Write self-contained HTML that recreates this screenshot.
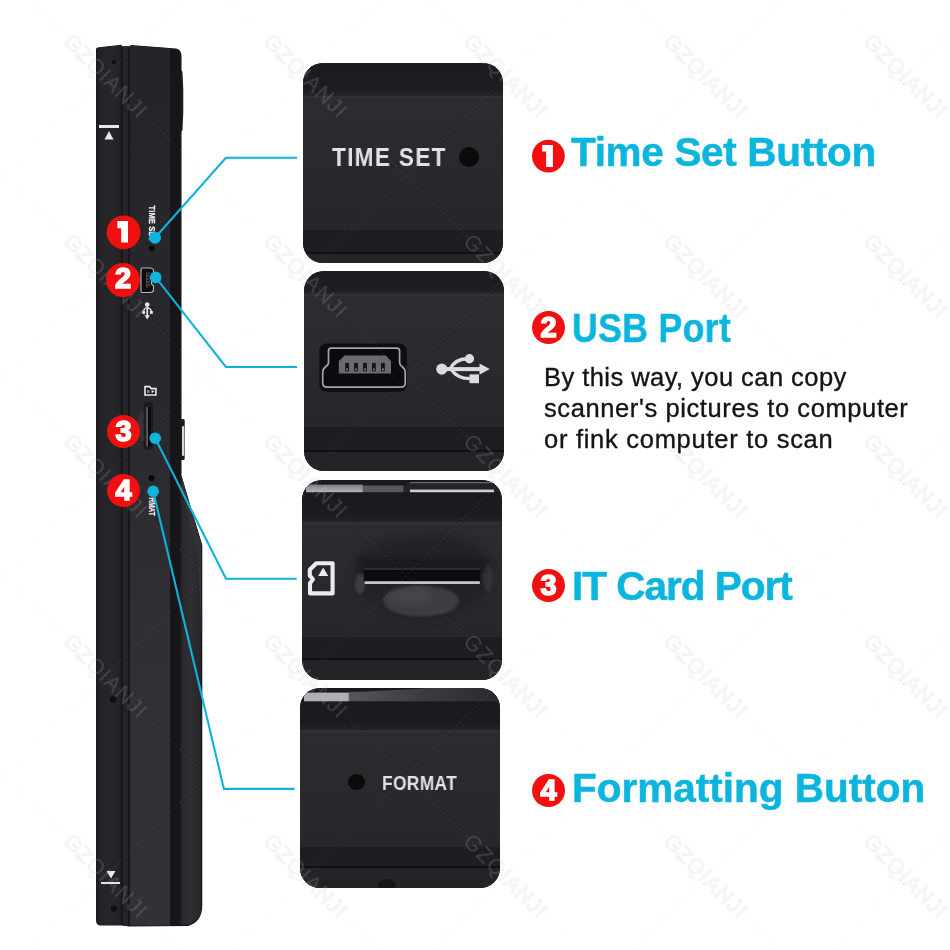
<!DOCTYPE html>
<html><head><meta charset="utf-8">
<style>
html,body{margin:0;padding:0;background:#fff;}
#c{position:relative;width:950px;height:950px;overflow:hidden;background:#fff;font-family:"Liberation Sans",sans-serif;}
.abs{position:absolute;}
.title{position:absolute;font-weight:bold;font-size:40.5px;color:#0cb5de;white-space:nowrap;line-height:1;will-change:transform;-webkit-text-stroke:0.5px #0cb5de;}
.rc{position:absolute;width:33px;height:33px;border-radius:50%;background:#f1100f;color:#fff;font-weight:bold;font-size:29px;line-height:33px;text-align:center;-webkit-text-stroke:1.6px #fff;will-change:transform;}
.body{position:absolute;left:543.5px;font-size:25.5px;color:#141414;white-space:nowrap;line-height:1;-webkit-text-stroke:0.35px #141414;will-change:transform;}
.panel{position:absolute;width:200px;height:200px;border-radius:20px;overflow:hidden;background:linear-gradient(#2c2c30 20%,#27272b 80%);}
.band{position:absolute;left:0;width:200px;}
.ptxt{position:absolute;font-weight:bold;color:#e2e2e4;white-space:nowrap;line-height:1;will-change:transform;}
</style></head><body><div id="c">

<!-- scanner body -->
<svg class="abs" style="left:0;top:0" width="950" height="950" viewBox="0 0 950 950">
  <defs>
    <linearGradient id="ext" x1="0" x2="1" y1="0" y2="0">
      <stop offset="0" stop-color="#1e1e21"/><stop offset="0.15" stop-color="#2a2a2e"/><stop offset="0.5" stop-color="#2e2e32"/><stop offset="0.9" stop-color="#28282c"/><stop offset="1" stop-color="#1e1e21"/>
    </linearGradient>
    <linearGradient id="lp" x1="0" x2="1" y1="0" y2="0">
      <stop offset="0" stop-color="#1c1c20"/><stop offset="0.15" stop-color="#242428"/><stop offset="0.6" stop-color="#27272b"/><stop offset="1" stop-color="#222226"/>
    </linearGradient>
    <linearGradient id="mp" x1="0" x2="0" y1="0" y2="1">
      <stop offset="0" stop-color="#252529"/><stop offset="0.4" stop-color="#29292d"/><stop offset="0.65" stop-color="#2f2f34"/><stop offset="1" stop-color="#313136"/>
    </linearGradient>
  </defs>
  <!-- silhouette -->
  <path d="M96 49 Q96 47.5 99 47.3 L121.6 44.7 L122 46.3 L130 46.3 L130.5 45 L176 48.5 Q181.5 49.5 181.5 56 L181.5 476 L188 498 L202.3 545 L202.3 905 Q202.3 922 188 926 L129 926.5 L122 925.5 L100 925.5 Q96 925 96 920 Z" fill="#161619"/>
  <!-- lower extension face -->
  <path d="M180 476 L181.5 476 L188 498 L201.8 545 L201.8 905 Q201.8 920 188 924.5 L180 925 Z" fill="url(#ext)"/>
  <path d="M182 477 L188 498 L201.5 545 L201.5 640 L198 560 L185.5 504 L181 486 Z" fill="#3a3a3e" opacity="0.5"/>
  <!-- left panel -->
  <path d="M96.5 50 Q96.5 48 99 47.8 L121 45.2 L121 925 L100 925 Q96.5 924.5 96.5 920 Z" fill="url(#lp)"/>
  <!-- divider strips -->
  <rect x="122.8" y="46.5" width="5.4" height="879" fill="#252528"/>
  <!-- main -->
  <path d="M130 46.5 L131 45.5 L170 48.3 L170 925.5 L130 925.5 Z" fill="url(#mp)"/>
</svg>

<!-- body markings -->
<div class="abs" style="left:99px;top:125.3px;width:19.5px;height:2.6px;background:#e8e8e8"></div>
<svg class="abs" style="left:104px;top:131px" width="10" height="9"><path d="M5 0 L9.5 8.5 L0.5 8.5 Z" fill="#e8e8e8"/></svg>
<div class="abs" style="left:100.8px;top:881.6px;width:19.5px;height:2.6px;background:#e8e8e8"></div>
<svg class="abs" style="left:105.5px;top:870.5px" width="10" height="8"><path d="M0.5 0 L9.5 0 L5 7.5 Z" fill="#e8e8e8"/></svg>

<svg class="abs" style="left:0;top:0;will-change:transform" width="950" height="950" viewBox="0 0 950 950">
  <!-- screws -->
  <circle cx="113.8" cy="62.2" r="2" fill="#0e0e10"/>
  <circle cx="113" cy="699.4" r="3.2" fill="#0e0e10"/>
  <circle cx="114" cy="908.6" r="3.2" fill="#0e0e10"/>
  <!-- side buttons -->
  <path d="M181 70 L182.5 72 L183.3 90 L183.3 112 L182.5 130 L181 132 Z" fill="#1e1e21"/>
  <rect x="180.5" y="419" width="4.2" height="41" rx="1.5" fill="#1a1a1c"/>
  <rect x="182" y="426" width="2.2" height="30" rx="1" fill="#d8d8da"/>
  <!-- holes -->
  <circle cx="151.8" cy="248.4" r="3" fill="#0a0a0b"/>
  <circle cx="151.5" cy="478" r="3" fill="#0a0a0b"/>
  <!-- body usb port -->
  <path d="M142 268 L150 268 Q153.5 268 153.5 271 L153.5 274 L151.5 276 L151.5 284 L153.5 286 L153.5 289.5 Q153.5 292.5 150 292.5 L142 292.5 Q141 292.5 141 291 L141 269.5 Q141 268 142 268 Z" fill="#0c0c0e" stroke="#b8b8bc" stroke-width="1.1"/>
  <rect x="146" y="272.5" width="3.6" height="15" fill="#505054"/>
  <!-- body usb symbol (arrow down) -->
  <g fill="#e6e6e8">
    <circle cx="147.2" cy="304.6" r="2.3"/>
    <rect x="146.4" y="305" width="1.7" height="11"/>
    <path d="M144.6 315.3 L149.8 315.3 L147.2 319.6 Z"/>
    <circle cx="143.6" cy="312.4" r="1.6"/>
    <rect x="149.9" y="311" width="2.9" height="2.9"/>
  </g>
  <g fill="none" stroke="#e6e6e8" stroke-width="1.3">
    <path d="M147.2 307.5 Q143.8 308.5 143.6 311.5"/>
    <path d="M147.2 307.8 Q151.3 308.5 151.3 311.5"/>
  </g>
  <g fill="#151517"><rect x="146.8" y="273.5" width="2.2" height="1.6"/><rect x="146.8" y="276.6" width="2.2" height="1.6"/><rect x="146.8" y="279.7" width="2.2" height="1.6"/><rect x="146.8" y="282.8" width="2.2" height="1.6"/><rect x="146.8" y="285.9" width="2.2" height="1.6"/></g>
  <!-- body sd icon -->
  <path d="M145 386.6 L149.6 386.6 L151.2 388.6 L155.9 388.6 L155.9 395 L145 395 Z" fill="#1a1a1c" stroke="#ececee" stroke-width="1.6" stroke-linejoin="miter"/>
  <path d="M151.6 389.9 L154.6 391.6 L151.6 393.3 Z" fill="#ececee"/>
  <path d="M147 390 L149.5 390 L149.5 393 L147 393 Z" fill="#ececee" opacity="0.5"/>
  <!-- body slot -->
  <ellipse cx="142.5" cy="426" rx="5.5" ry="14" fill="#3a3a3e" opacity="0.75"/>
  <rect x="143.8" y="402" width="9.2" height="48" rx="4" fill="#1c1c1f"/>
  <rect x="147.4" y="407" width="3.4" height="39.5" fill="#08080a"/>
  <rect x="146.6" y="407" width="1" height="39.5" fill="#b0b0b4" opacity="0.8"/>
  <!-- rotated text -->
  <text transform="translate(148.6,205.5) rotate(90) scale(0.78,1)" font-family="Liberation Sans" font-weight="bold" font-size="9.6" fill="#f0f0f2" stroke="#f0f0f2" stroke-width="0.3" letter-spacing="0.2">TIME SET</text>
  <text transform="translate(149,497.5) rotate(90) scale(0.75,1)" font-family="Liberation Sans" font-weight="bold" font-size="8.6" fill="#f0f0f2" stroke="#f0f0f2" stroke-width="0.25">RMAT</text>
</svg>

<!-- panels -->
<div class="panel" style="left:303px;top:63px;">
  <div class="band" style="top:0;height:33px;background:linear-gradient(#1c1c20,#1d1d21 80%,#262629)"></div>
  <div class="band" style="top:33px;height:2px;background:#313135"></div>
  <div class="band" style="top:167px;height:22px;background:#1e1e22"></div>
  <div class="band" style="top:189px;height:2px;background:#111113"></div>
  <div class="band" style="top:191px;height:9px;background:#242428"></div>
  <div class="ptxt" style="left:28.5px;top:81px;font-size:26px;letter-spacing:1.5px;transform:scaleX(0.87);transform-origin:0 0">TIME SET</div>
  <div class="abs" style="left:155.5px;top:84px;width:20px;height:20px;border-radius:50%;background:#0b0b0c"></div>
</div>

<div class="panel" style="left:304px;top:271px;">
  <div class="band" style="top:0;height:23px;background:linear-gradient(#1c1c20,#1e1e22 85%,#29292d)"></div>
  <div class="band" style="top:23px;height:2px;background:#313135"></div>
  <div class="band" style="top:156px;height:24px;background:#1e1e22"></div>
  <div class="band" style="top:179px;height:2px;background:#111113"></div>
  <div class="band" style="top:181px;height:19px;background:#242428"></div>
  <svg class="abs" style="left:0;top:0" width="200" height="200" viewBox="0 0 200 200">
    <rect x="15.4" y="72.4" width="87.3" height="48.4" rx="7" fill="#0e0e10"/>
    <path d="M27 77.2 L93 77.2 Q95.6 77.2 95.6 80 L95.6 91.5 Q95.6 94 98 95.5 Q101.2 98 101.2 101.5 L101.2 112 Q101.2 116.1 97 116.1 L23 116.1 Q18.7 116.1 18.7 112 L18.7 101.5 Q18.7 98 21.8 95.5 Q24.5 94 24.5 91.5 L24.5 80 Q24.5 77.2 27 77.2 Z" fill="#0b0b0d" stroke="#a4a4a8" stroke-width="1.7"/>
    <path d="M40.6 84.5 L81.6 84.5 L87 90 L87 102.4 L34.8 102.4 L34.8 90 Z" fill="#6a6a6e"/>
    <g fill="#141416">
      <rect x="41.2" y="91.9" width="3.8" height="8.4"/>
      <rect x="50.1" y="91.9" width="3.8" height="8.4"/>
      <rect x="59.1" y="91.9" width="3.8" height="8.4"/>
      <rect x="68" y="91.9" width="3.8" height="8.4"/>
      <rect x="77" y="91.9" width="3.8" height="8.4"/>
    </g>
    <g fill="#8a8a8e">
      <rect x="42.2" y="97.5" width="1.8" height="1.8"/>
      <rect x="51.1" y="97.5" width="1.8" height="1.8"/>
      <rect x="60.1" y="97.5" width="1.8" height="1.8"/>
      <rect x="69" y="97.5" width="1.8" height="1.8"/>
      <rect x="78" y="97.5" width="1.8" height="1.8"/>
    </g>
    <!-- usb symbol -->
    <g fill="#dcdcde" stroke="none">
      <circle cx="137.8" cy="98.1" r="5.6"/>
      <rect x="137" y="96.1" width="39" height="4"/>
      <path d="M175.5 92.4 L185.8 98.1 L175.5 103.8 Z"/>
      <circle cx="165.4" cy="87.8" r="4.7"/>
      <rect x="165.5" y="103.4" width="9.5" height="8.8"/>
    </g>
    <g fill="none" stroke="#dcdcde" stroke-width="3.4">
      <path d="M146 98.1 Q151 88 163 87.8"/>
      <path d="M147 98.1 Q153 107.6 166 107.6"/>
    </g>
  </svg>
</div>

<div class="panel" style="left:302px;top:480px;">
  <div class="band" style="top:0;height:42px;background:linear-gradient(#1a1a1e,#1c1c20 85%,#242428)"></div>
  <div class="band" style="top:42px;height:2px;background:#303034"></div>
  <div class="band" style="top:157px;height:21px;background:#1e1e22"></div>
  <div class="band" style="top:178px;height:2px;background:#111113"></div>
  <div class="band" style="top:180px;height:20px;background:#242428"></div>
  <svg class="abs" style="left:0;top:0" width="200" height="200" viewBox="0 0 200 200">
    <defs>
      <linearGradient id="hl3" x1="0" x2="0" y1="0" y2="1"><stop offset="0" stop-color="#7c7c80"/><stop offset="1" stop-color="#b4b4b8"/></linearGradient>
      <radialGradient id="rec3" cx="0.5" cy="0.5" r="0.5"><stop offset="0" stop-color="#1c1c20"/><stop offset="0.7" stop-color="#222226"/><stop offset="1" stop-color="#2a2a2e" stop-opacity="0"/></radialGradient>
      <radialGradient id="lip3" cx="0.5" cy="0.3" r="0.65"><stop offset="0" stop-color="#48484c"/><stop offset="0.75" stop-color="#38383c"/><stop offset="1" stop-color="#2c2c30" stop-opacity="0"/></radialGradient>
    </defs>
    <rect x="4" y="4.6" width="57" height="7.6" fill="url(#hl3)"/>
    <rect x="60.6" y="5.5" width="41" height="6.7" fill="#5a5a5e"/>
    <path d="M101.6 12.2 L104 4 Q106 2 112 2 L200 2 L200 12.2 Z" fill="#242428"/>
    <rect x="108" y="9.6" width="84" height="2.6" fill="#cfcfd2"/>
    <rect x="108" y="2" width="84" height="1.2" fill="#6a6a6e"/>
    <filter id="bl3" x="-30%" y="-30%" width="160%" height="160%"><feGaussianBlur stdDeviation="3"/></filter>
    <filter id="bl1" x="-30%" y="-30%" width="160%" height="160%"><feGaussianBlur stdDeviation="1.2"/></filter>
    <path d="M52 100 Q50 70 80 62 Q105 56 120 58 Q140 48 160 60 Q190 66 192 95 Q192 118 170 122 Q150 142 118 142 Q88 142 70 122 Q54 114 52 100 Z" fill="#222226" filter="url(#bl3)"/>
    <ellipse cx="58" cy="104" rx="5" ry="10" fill="#48484c" opacity="0.7" filter="url(#bl1)"/>
    <ellipse cx="186" cy="98" rx="5" ry="14" fill="#3a3a3e" opacity="0.7" filter="url(#bl1)"/>
    <ellipse cx="119" cy="121" rx="38" ry="15.5" fill="#3c3c40" filter="url(#bl1)"/>
    <ellipse cx="108" cy="116" rx="22" ry="8" fill="#4c4c50" opacity="0.6" filter="url(#bl3)"/>
    <rect x="58" y="80" width="125" height="10" fill="#141416" opacity="0.8" filter="url(#bl3)"/>
    <rect x="62" y="88" width="116.5" height="14" fill="#0c0c0e"/>
    <rect x="62" y="88" width="116.5" height="2" fill="#2a2a2e"/>
    <rect x="62.5" y="101.2" width="115.5" height="2.8" rx="1" fill="#c4c4c8"/>
    <path d="M14.3 83.3 L30.6 83.3 L30.6 113.4 L8 113.4 L8 103.3 L10.9 99.3 L7.8 95.6 L7.8 89.8 Z" fill="none" stroke="#ececee" stroke-width="4.1" stroke-linejoin="round"/>
    <path d="M21.2 87.6 L26.2 95.9 L16.2 95.9 Z" fill="#ececee"/>
  </svg>
</div>

<div class="panel" style="left:300px;top:688px;">
  <div class="band" style="top:0;height:42px;background:linear-gradient(#1a1a1e,#1c1c20 85%,#242428)"></div>
  <div class="band" style="top:42px;height:2px;background:#303034"></div>
  <div class="band" style="top:159px;height:19px;background:#1e1e22"></div>
  <div class="band" style="top:178px;height:2px;background:#111113"></div>
  <div class="band" style="top:180px;height:20px;background:#242428"></div>
  <svg class="abs" style="left:0;top:0" width="200" height="200" viewBox="0 0 200 200">
    <defs>
      <linearGradient id="hl4" x1="0" x2="1" y1="0" y2="0"><stop offset="0" stop-color="#55555a"/><stop offset="0.5" stop-color="#3c3c40"/><stop offset="1" stop-color="#2a2a2e"/></linearGradient>
    </defs>
    <rect x="4" y="4.6" width="45" height="8.7" fill="#b0b0b4"/>
    <path d="M48.7 13.3 L48.7 4 Q80 3 130 0 L200 0 L200 13.3 Z" fill="url(#hl4)"/>
    <ellipse cx="86.8" cy="197" rx="9" ry="6" fill="#161618"/>
  </svg>
  <div class="ptxt" style="left:81.5px;top:85.5px;font-size:19.3px;letter-spacing:0.4px;transform:scaleX(0.9);transform-origin:0 0">FORMAT</div>
  <div class="abs" style="left:48px;top:85.5px;width:17px;height:16px;border-radius:50%;background:#0b0b0c"></div>
</div>

<!-- watermark -->
<svg class="abs" style="left:0;top:0;mix-blend-mode:screen" width="950" height="950" viewBox="0 0 950 950">
  <g stroke="#222222" stroke-width="1" stroke-dasharray="1.5 3">
    <line x1="-50" y1="-1280" x2="1000" y2="-230"/>
    <line x1="-50" y1="-1080" x2="1000" y2="-30"/>
    <line x1="-50" y1="-880" x2="1000" y2="170"/>
    <line x1="-50" y1="-680" x2="1000" y2="370"/>
    <line x1="-50" y1="-480" x2="1000" y2="570"/>
    <line x1="-50" y1="-280" x2="1000" y2="770"/>
    <line x1="-50" y1="-80" x2="1000" y2="970"/>
    <line x1="-50" y1="120" x2="1000" y2="1170"/>
    <line x1="-50" y1="320" x2="1000" y2="1370"/>
    <line x1="-50" y1="520" x2="1000" y2="1570"/>
    <line x1="-50" y1="720" x2="1000" y2="1770"/>
    <line x1="-50" y1="920" x2="1000" y2="1970"/>
    <line x1="-50" y1="32" x2="1000" y2="-1018"/>
    <line x1="-50" y1="232" x2="1000" y2="-818"/>
    <line x1="-50" y1="432" x2="1000" y2="-618"/>
    <line x1="-50" y1="632" x2="1000" y2="-418"/>
    <line x1="-50" y1="832" x2="1000" y2="-218"/>
    <line x1="-50" y1="1032" x2="1000" y2="-18"/>
    <line x1="-50" y1="1232" x2="1000" y2="182"/>
    <line x1="-50" y1="1432" x2="1000" y2="382"/>
    <line x1="-50" y1="1632" x2="1000" y2="582"/>
    <line x1="-50" y1="1832" x2="1000" y2="782"/>
    <line x1="-50" y1="2032" x2="1000" y2="982"/>
    <line x1="-50" y1="2232" x2="1000" y2="1182"/>
    <line x1="-50" y1="2432" x2="1000" y2="1382"/>
  </g>
  <g font-family="Liberation Sans" font-size="21.5" fill="#242424" stroke="#242424" stroke-width="0.4" text-anchor="middle" letter-spacing="1.2">
    <text transform="translate(106,76) rotate(45)" x="0" y="7.5">GZQIANJI</text>
    <text transform="translate(306,76) rotate(45)" x="0" y="7.5">GZQIANJI</text>
    <text transform="translate(506,76) rotate(45)" x="0" y="7.5">GZQIANJI</text>
    <text transform="translate(706,76) rotate(45)" x="0" y="7.5">GZQIANJI</text>
    <text transform="translate(906,76) rotate(45)" x="0" y="7.5">GZQIANJI</text>
    <text transform="translate(106,276) rotate(45)" x="0" y="7.5">GZQIANJI</text>
    <text transform="translate(306,276) rotate(45)" x="0" y="7.5">GZQIANJI</text>
    <text transform="translate(506,276) rotate(45)" x="0" y="7.5">GZQIANJI</text>
    <text transform="translate(706,276) rotate(45)" x="0" y="7.5">GZQIANJI</text>
    <text transform="translate(906,276) rotate(45)" x="0" y="7.5">GZQIANJI</text>
    <text transform="translate(106,476) rotate(45)" x="0" y="7.5">GZQIANJI</text>
    <text transform="translate(306,476) rotate(45)" x="0" y="7.5">GZQIANJI</text>
    <text transform="translate(506,476) rotate(45)" x="0" y="7.5">GZQIANJI</text>
    <text transform="translate(706,476) rotate(45)" x="0" y="7.5">GZQIANJI</text>
    <text transform="translate(906,476) rotate(45)" x="0" y="7.5">GZQIANJI</text>
    <text transform="translate(106,676) rotate(45)" x="0" y="7.5">GZQIANJI</text>
    <text transform="translate(306,676) rotate(45)" x="0" y="7.5">GZQIANJI</text>
    <text transform="translate(506,676) rotate(45)" x="0" y="7.5">GZQIANJI</text>
    <text transform="translate(706,676) rotate(45)" x="0" y="7.5">GZQIANJI</text>
    <text transform="translate(906,676) rotate(45)" x="0" y="7.5">GZQIANJI</text>
    <text transform="translate(106,876) rotate(45)" x="0" y="7.5">GZQIANJI</text>
    <text transform="translate(306,876) rotate(45)" x="0" y="7.5">GZQIANJI</text>
    <text transform="translate(506,876) rotate(45)" x="0" y="7.5">GZQIANJI</text>
    <text transform="translate(706,876) rotate(45)" x="0" y="7.5">GZQIANJI</text>
    <text transform="translate(906,876) rotate(45)" x="0" y="7.5">GZQIANJI</text>
  </g>
</svg>
<svg class="abs" style="left:0;top:0;mix-blend-mode:multiply" width="950" height="950" viewBox="0 0 950 950">
  <g stroke="#f5f5f5" stroke-width="1" stroke-dasharray="1.5 3">
    <line x1="-50" y1="-1280" x2="1000" y2="-230"/>
    <line x1="-50" y1="-1080" x2="1000" y2="-30"/>
    <line x1="-50" y1="-880" x2="1000" y2="170"/>
    <line x1="-50" y1="-680" x2="1000" y2="370"/>
    <line x1="-50" y1="-480" x2="1000" y2="570"/>
    <line x1="-50" y1="-280" x2="1000" y2="770"/>
    <line x1="-50" y1="-80" x2="1000" y2="970"/>
    <line x1="-50" y1="120" x2="1000" y2="1170"/>
    <line x1="-50" y1="320" x2="1000" y2="1370"/>
    <line x1="-50" y1="520" x2="1000" y2="1570"/>
    <line x1="-50" y1="720" x2="1000" y2="1770"/>
    <line x1="-50" y1="920" x2="1000" y2="1970"/>
    <line x1="-50" y1="32" x2="1000" y2="-1018"/>
    <line x1="-50" y1="232" x2="1000" y2="-818"/>
    <line x1="-50" y1="432" x2="1000" y2="-618"/>
    <line x1="-50" y1="632" x2="1000" y2="-418"/>
    <line x1="-50" y1="832" x2="1000" y2="-218"/>
    <line x1="-50" y1="1032" x2="1000" y2="-18"/>
    <line x1="-50" y1="1232" x2="1000" y2="182"/>
    <line x1="-50" y1="1432" x2="1000" y2="382"/>
    <line x1="-50" y1="1632" x2="1000" y2="582"/>
    <line x1="-50" y1="1832" x2="1000" y2="782"/>
    <line x1="-50" y1="2032" x2="1000" y2="982"/>
    <line x1="-50" y1="2232" x2="1000" y2="1182"/>
    <line x1="-50" y1="2432" x2="1000" y2="1382"/>
  </g>
  <g font-family="Liberation Sans" font-size="21.5" fill="none" stroke="#ececec" stroke-width="0.75" text-anchor="middle" letter-spacing="1.2">
    <text transform="translate(106,76) rotate(45)" x="0" y="7.5">GZQIANJI</text>
    <text transform="translate(306,76) rotate(45)" x="0" y="7.5">GZQIANJI</text>
    <text transform="translate(506,76) rotate(45)" x="0" y="7.5">GZQIANJI</text>
    <text transform="translate(706,76) rotate(45)" x="0" y="7.5">GZQIANJI</text>
    <text transform="translate(906,76) rotate(45)" x="0" y="7.5">GZQIANJI</text>
    <text transform="translate(106,276) rotate(45)" x="0" y="7.5">GZQIANJI</text>
    <text transform="translate(306,276) rotate(45)" x="0" y="7.5">GZQIANJI</text>
    <text transform="translate(506,276) rotate(45)" x="0" y="7.5">GZQIANJI</text>
    <text transform="translate(706,276) rotate(45)" x="0" y="7.5">GZQIANJI</text>
    <text transform="translate(906,276) rotate(45)" x="0" y="7.5">GZQIANJI</text>
    <text transform="translate(106,476) rotate(45)" x="0" y="7.5">GZQIANJI</text>
    <text transform="translate(306,476) rotate(45)" x="0" y="7.5">GZQIANJI</text>
    <text transform="translate(506,476) rotate(45)" x="0" y="7.5">GZQIANJI</text>
    <text transform="translate(706,476) rotate(45)" x="0" y="7.5">GZQIANJI</text>
    <text transform="translate(906,476) rotate(45)" x="0" y="7.5">GZQIANJI</text>
    <text transform="translate(106,676) rotate(45)" x="0" y="7.5">GZQIANJI</text>
    <text transform="translate(306,676) rotate(45)" x="0" y="7.5">GZQIANJI</text>
    <text transform="translate(506,676) rotate(45)" x="0" y="7.5">GZQIANJI</text>
    <text transform="translate(706,676) rotate(45)" x="0" y="7.5">GZQIANJI</text>
    <text transform="translate(906,676) rotate(45)" x="0" y="7.5">GZQIANJI</text>
    <text transform="translate(106,876) rotate(45)" x="0" y="7.5">GZQIANJI</text>
    <text transform="translate(306,876) rotate(45)" x="0" y="7.5">GZQIANJI</text>
    <text transform="translate(506,876) rotate(45)" x="0" y="7.5">GZQIANJI</text>
    <text transform="translate(706,876) rotate(45)" x="0" y="7.5">GZQIANJI</text>
    <text transform="translate(906,876) rotate(45)" x="0" y="7.5">GZQIANJI</text>
  </g>
</svg>

<!-- red circles on body -->
<svg class="abs" style="left:0;top:0" width="950" height="950"><circle cx="123.6" cy="232.3" r="16.9" fill="#f1100f"/><path d="M117.4 221 L128 221 L128 242.6 L121.2 242.6 L121.2 228.3 L117.4 228.3 Z" fill="#fff"/></svg>
<div class="rc" style="left:106px;top:263.4px;width:34px;height:34px;line-height:31px">2</div>
<div class="rc" style="left:106.9px;top:414.8px;width:33.2px;height:33.2px;line-height:33px">3</div>
<div class="rc" style="left:106.9px;top:473.8px;width:33.2px;height:33.2px;line-height:33.4px">4</div>

<!-- connector lines -->
<svg class="abs" style="left:0;top:0" width="950" height="950">
  <g fill="none" stroke="#0db3dc" stroke-width="2.1" stroke-linejoin="miter">
    <polyline points="155,237.7 225.9,157.8 297,157.8"/>
    <polyline points="155.7,277.4 225.9,367 297,367"/>
    <polyline points="155.2,438.2 226,578.8 296.7,578.8"/>
    <polyline points="153.2,491.3 223.9,788.9 294.6,788.9"/>
  </g>
  <g fill="#0db5de">
    <circle cx="155" cy="237.7" r="6"/>
    <circle cx="155.7" cy="277.4" r="5.8"/>
    <circle cx="155.2" cy="438.2" r="5.8"/>
    <circle cx="153.2" cy="491.3" r="5.8"/>
  </g>
</svg>

<!-- titles -->
<svg class="abs" style="left:0;top:0" width="950" height="950"><circle cx="548.4" cy="156.1" r="16.4" fill="#f1100f"/><path d="M542.2 145.1 L552.9 145.1 L552.9 167.1 L546.1 167.1 L546.1 151.6 L542.2 151.6 Z" fill="#fff"/></svg>
<div class="title" style="left:570.8px;top:132.2px;letter-spacing:-0.33px">Time Set Button</div>
<div class="rc" style="left:532px;top:311px">2</div>
<div class="title" style="left:571.8px;top:308.1px;letter-spacing:0.38px;transform:scaleX(0.88);transform-origin:0 0">USB Port</div>
<div class="body" style="top:364.5px;letter-spacing:0.45px">By this way, you can copy</div>
<div class="body" style="top:395.8px;letter-spacing:0.6px">scanner's pictures to computer</div>
<div class="body" style="top:426.8px;letter-spacing:0.72px">or fink computer to scan</div>
<div class="rc" style="left:532px;top:569px">3</div>
<div class="title" style="left:571.5px;top:566.1px;letter-spacing:-1px">IT Card Port</div>
<div class="rc" style="left:532px;top:774px">4</div>
<div class="title" style="left:571.5px;top:768.3px;letter-spacing:0.01px">Formatting Button</div>

</div></body></html>
